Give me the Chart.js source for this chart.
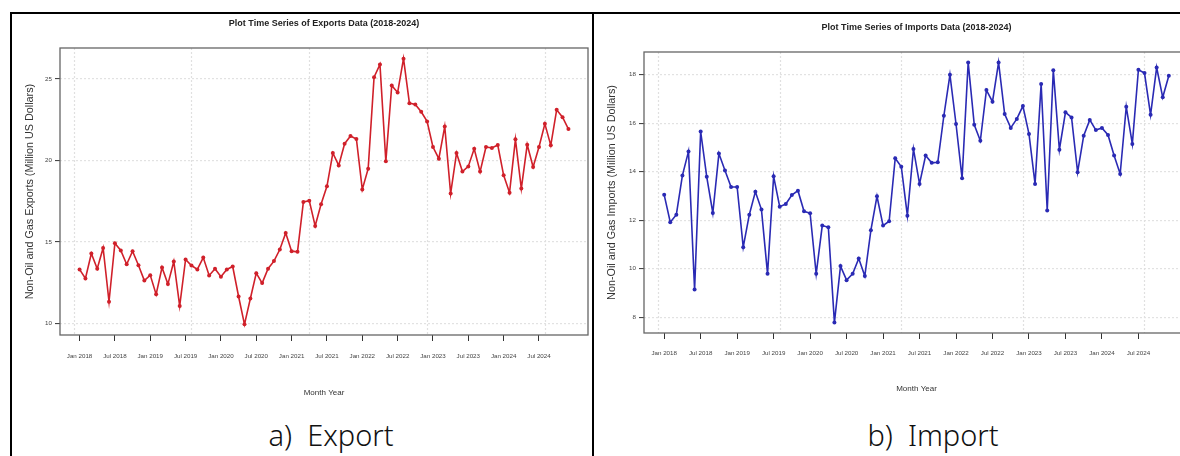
<!DOCTYPE html>
<html>
<head>
<meta charset="utf-8">
<script src="https://cdn.jsdelivr.net/npm/chart.js@4.4.1/dist/chart.umd.min.js"></script>
<style>
html,body{margin:0;padding:0;background:#fff;overflow:hidden;width:1180px;height:456px;}
#wrap{position:relative;width:1180px;height:456px;overflow:hidden;background:#fff;}
canvas{position:absolute;}
.line{position:absolute;background:#000;}
.cap{position:absolute;font-family:"Noto Sans",sans-serif;font-weight:300;font-size:29px;line-height:29px;color:#111;white-space:pre;transform:translateX(-50%);}
</style>
</head>
<body>
<div id="wrap">
  <canvas id="cExp" width="580" height="400" style="left:12px;top:14px"></canvas>
  <canvas id="cImp" width="600" height="400" style="left:595px;top:14px"></canvas>
  <div class="line" style="left:10px;top:12px;width:1170px;height:2px"></div>
  <div class="line" style="left:10px;top:12px;width:2px;height:444px"></div>
  <div class="line" style="left:592px;top:12px;width:2px;height:444px"></div>
  <div class="cap" style="left:331px;top:420px">a)  Export</div>
  <div class="cap" style="left:933px;top:420px">b)  Import</div>
</div>
<script>
// ---- data (monthly, Jan 2018 .. Dec 2024), index 1..84 ----
const exportsValues = [
  13.31, 12.76, 14.29, 13.35, 14.63, 11.33, 14.92, 14.47, 13.63, 14.43, 13.57, 12.63,
  12.96, 11.78, 13.43, 12.41, 13.80, 11.06, 13.92, 13.55, 13.31, 14.04, 12.94, 13.35,
  12.86, 13.31, 13.49, 11.65, 9.94, 11.53, 13.08, 12.47, 13.35, 13.82, 14.53, 15.55,
  14.43, 14.39, 17.45, 17.53, 15.98, 17.31, 18.41, 20.45, 19.69, 21.02, 21.49, 21.31,
  18.22, 19.49, 25.10, 25.88, 19.94, 24.59, 24.16, 26.24, 23.51, 23.43, 22.98, 22.39,
  20.82, 20.10, 22.08, 17.96, 20.45, 19.31, 19.63, 20.71, 19.31, 20.82, 20.76, 20.94,
  19.08, 18.02, 21.29, 18.27, 20.96, 19.59, 20.82, 22.24, 20.92, 23.10, 22.65, 21.92
];
const importsValues = [
  13.05, 11.92, 12.23, 13.85, 14.84, 9.14, 15.66, 13.79, 12.30, 14.75, 14.05, 13.37,
  13.37, 10.89, 12.23, 13.18, 12.44, 9.79, 13.81, 12.56, 12.67, 13.04, 13.22, 12.37,
  12.29, 9.79, 11.78, 11.71, 7.78, 10.11, 9.53, 9.79, 10.42, 9.70, 11.59, 12.99,
  11.78, 11.96, 14.56, 14.21, 12.19, 14.94, 13.50, 14.67, 14.37, 14.39, 16.31, 18.00,
  15.97, 13.73, 18.51, 15.94, 15.28, 17.37, 16.89, 18.51, 16.38, 15.81, 16.18, 16.71,
  15.56, 13.50, 17.62, 12.40, 18.19, 14.91, 16.45, 16.24, 13.98, 15.49, 16.14, 15.72,
  15.81, 15.52, 14.67, 13.91, 16.68, 15.15, 18.21, 18.07, 16.35, 18.30, 17.07, 17.96
];
const monthIndex = exportsValues.map((v, i) => i + 1);
const tickLabels = ['Jan 2018','Jul 2018','Jan 2019','Jul 2019','Jan 2020','Jul 2020','Jan 2021',
                    'Jul 2021','Jan 2022','Jul 2022','Jan 2023','Jul 2023','Jan 2024','Jul 2024'];
const tickPositions = [1, 7, 13, 19, 25, 31, 37, 43, 49, 55, 61, 67, 73, 79];
const gridPositions = [0, 20, 40, 60, 80];

const SANS = '"Liberation Sans", Arial, sans-serif';

const framePlugin = {
  id: 'frame',
  beforeDatasetsDraw(chart) {
    const {ctx, chartArea: a, scales: {x}} = chart;
    ctx.save();
    ctx.strokeStyle = '#e0e0e0';
    ctx.lineWidth = 1.2;
    ctx.setLineDash([2, 2]);
    gridPositions.forEach(v => {
      const px = Math.round(x.getPixelForValue(v)) + 0.5;
      ctx.beginPath(); ctx.moveTo(px, a.top); ctx.lineTo(px, a.bottom); ctx.stroke();
    });
    ctx.restore();
  },
  afterDraw(chart) {
    const {ctx, chartArea: a} = chart;
    ctx.save();
    ctx.strokeStyle = '#666';
    ctx.lineWidth = 1.3;
    ctx.strokeRect(a.left, a.top, a.right - a.left, a.bottom - a.top);
    ctx.restore();
  }
};

function rangeOf(vals) {
  const lo = Math.min(...vals), hi = Math.max(...vals), pad = (hi - lo) * 0.04;
  return [lo - pad, hi + pad];
}

function makeChart(id, values, color, cfg) {
  const [yMin, yMax] = rangeOf(values);
  const xPad = (monthIndex[monthIndex.length - 1] - monthIndex[0]) * 0.04;
  return new Chart(document.getElementById(id), {
    type: 'line',
    data: {
      datasets: [{
        data: values.map((v, i) => ({x: monthIndex[i], y: v})),
        borderColor: color, backgroundColor: color,
        borderWidth: 1.6, pointRadius: 2, pointHoverRadius: 2, pointBorderWidth: 0,
        tension: 0
      }]
    },
    options: {
      responsive: false, animation: false, devicePixelRatio: 1,
      layout: {padding: {left: 0, right: cfg.padRight, top: 0, bottom: 0}},
      plugins: {
        legend: {display: false},
        tooltip: {enabled: false},
        title: {
          display: true, fullSize: false, text: cfg.title, color: '#222',
          font: {family: SANS, size: 9, weight: 'bold'},
          padding: {top: cfg.titleTop, bottom: cfg.titleBottom}
        }
      },
      scales: {
        x: {
          type: 'linear',
          min: monthIndex[0] - xPad, max: monthIndex[monthIndex.length - 1] + xPad,
          afterBuildTicks: s => { s.ticks = tickPositions.map(v => ({value: v})); },
          afterFit: s => { s.height = cfg.xHeight; },
          ticks: {
            autoSkip: false, maxRotation: 0, minRotation: 0, padding: cfg.xTickPad,
            color: '#444', font: {family: SANS, size: 6.2},
            callback: (v, i) => tickLabels[i]
          },
          grid: {drawOnChartArea: false, drawTicks: true, tickLength: 6, tickColor: '#333', tickWidth: 1},
          border: {display: false},
          title: {
            display: true, text: 'Month Year', color: '#333',
            font: {family: SANS, size: 8},
            padding: {top: 0, bottom: cfg.xTitlePad}
          }
        },
        y: {
          min: yMin, max: yMax,
          afterFit: s => { s.width = cfg.yWidth; },
          ticks: {
            stepSize: cfg.yStep, includeBounds: false, padding: 3,
            color: '#444', font: {family: SANS, size: 6.2}
          },
          grid: {color: '#e2e2e2', lineWidth: 1.2, drawTicks: true, tickLength: 5, tickColor: '#333', tickWidth: 1},
          border: {display: false, dash: [2, 2]},
          title: {
            display: true, text: cfg.yTitle, color: '#333',
            font: {family: SANS, size: 10.8},
            padding: {top: cfg.yTitlePad, bottom: 0}
          }
        }
      }
    },
    plugins: [framePlugin]
  });
}

makeChart('cExp', exportsValues, '#d0202a', {
  title: 'Plot Time Series of Exports Data (2018-2024)',
  yTitle: 'Non-Oil and Gas Exports (Million US Dollars)',
  padRight: 4, titleTop: 4.6, titleBottom: 18.6, xHeight: 79, yWidth: 48,
  xTickPad: 12, xTitlePad: 16.2, yTitlePad: 11.5, yStep: 5
});
makeChart('cImp', importsValues, '#2a2ab4', {
  title: 'Plot Time Series of Imports Data (2018-2024)',
  yTitle: 'Non-Oil and Gas Imports (Million US Dollars)',
  padRight: 6, titleTop: 8.6, titleBottom: 18.6, xHeight: 81, yWidth: 49,
  xTickPad: 11, xTitlePad: 20.2, yTitlePad: 10.5, yStep: 2
});
</script>
</body>
</html>
